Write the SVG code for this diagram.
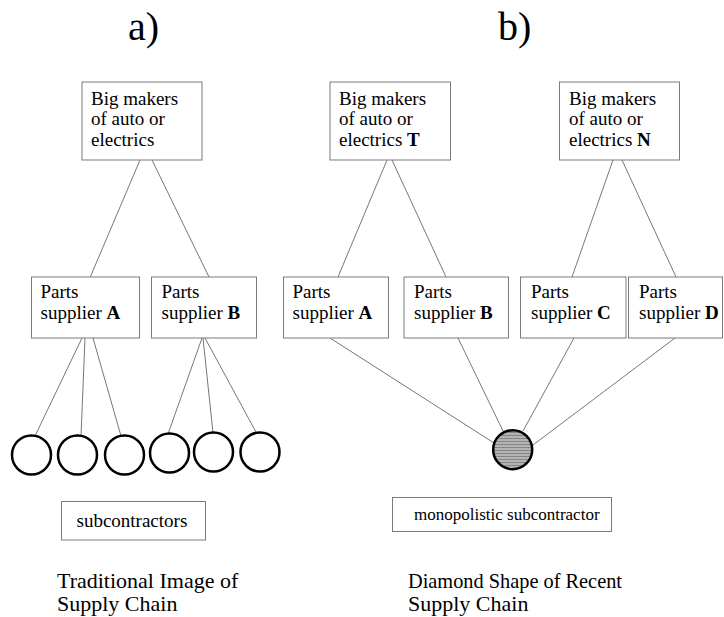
<svg xmlns="http://www.w3.org/2000/svg" width="724" height="617" viewBox="0 0 724 617" font-family="Liberation Serif, DejaVu Serif, serif">
<style>
text{font-family:'Liberation Serif','DejaVu Serif',serif}
.box{fill:#fff;stroke:#7a7a7a;stroke-width:1}
.t{font-size:19px;fill:#000}
.big{font-size:40px;fill:#000}
.cap{font-size:22px;fill:#000}
.c{stroke:#777;stroke-width:1;fill:none}
.sub{fill:#fff;stroke:#000;stroke-width:2.5}
</style>
<defs>
<pattern id="stripes" width="4" height="3" patternUnits="userSpaceOnUse">
<rect width="4" height="3" fill="#b4b4b4"/>
<rect width="4" height="1" fill="#858585"/>
</pattern>
</defs>
<rect width="724" height="617" fill="#fff"/>
<text class="big" x="128" y="40">a)</text>
<text class="big" x="498" y="40">b)</text>
<g id="connectors">
<line class="c" x1="140" y1="160" x2="89" y2="280"/>
<line class="c" x1="152" y1="160" x2="209" y2="277"/>
<line class="c" x1="387" y1="160" x2="338" y2="277"/>
<line class="c" x1="392" y1="160" x2="446" y2="277"/>
<line class="c" x1="613" y1="160" x2="572" y2="277"/>
<line class="c" x1="622" y1="160" x2="676" y2="277"/>
<line class="c" x1="82" y1="338" x2="35" y2="436"/>
<line class="c" x1="85" y1="338" x2="81" y2="436"/>
<line class="c" x1="93" y1="338" x2="121" y2="436"/>
<line class="c" x1="202" y1="338" x2="168" y2="434"/>
<line class="c" x1="203" y1="338" x2="213" y2="433"/>
<line class="c" x1="205" y1="338" x2="257" y2="434"/>
<line class="c" x1="330" y1="338" x2="494" y2="443"/>
<line class="c" x1="458" y1="338" x2="503" y2="431"/>
<line class="c" x1="574" y1="338" x2="523" y2="431"/>
<line class="c" x1="675" y1="338" x2="533" y2="445"/>
</g>
<g id="makerA">
<rect class="box" x="82" y="82" width="120" height="78"/>
<text class="t" x="91" y="105">Big makers</text>
<text class="t" x="91" y="125">of auto or</text>
<text class="t" x="91" y="146">electrics</text>
</g>
<g id="makerT">
<rect class="box" x="330" y="82" width="120.5" height="78"/>
<text class="t" x="339" y="105">Big makers</text>
<text class="t" x="339" y="125">of auto or</text>
<text class="t" x="339" y="146">electrics <tspan font-weight="bold">T</tspan></text>
</g>
<g id="makerN">
<rect class="box" x="559.5" y="82" width="120" height="78"/>
<text class="t" x="569" y="105">Big makers</text>
<text class="t" x="569" y="125">of auto or</text>
<text class="t" x="569" y="146">electrics <tspan font-weight="bold">N</tspan></text>
</g>
<g id="partsA_a">
<rect class="box" x="31.5" y="277" width="108" height="61"/>
<text class="t" x="40.5" y="298">Parts</text>
<text class="t" x="40.5" y="319">supplier <tspan font-weight="bold">A</tspan></text>
</g>
<g id="partsB_a">
<rect class="box" x="151.5" y="277" width="105" height="61"/>
<text class="t" x="161.5" y="298">Parts</text>
<text class="t" x="161.5" y="319">supplier <tspan font-weight="bold">B</tspan></text>
</g>
<g id="partsA_b">
<rect class="box" x="283.5" y="277" width="105" height="61"/>
<text class="t" x="292.5" y="298">Parts</text>
<text class="t" x="292.5" y="319">supplier <tspan font-weight="bold">A</tspan></text>
</g>
<g id="partsB_b">
<rect class="box" x="404" y="277" width="104.5" height="61"/>
<text class="t" x="414" y="298">Parts</text>
<text class="t" x="414" y="319">supplier <tspan font-weight="bold">B</tspan></text>
</g>
<g id="partsC_b">
<rect class="box" x="520.5" y="277" width="105.5" height="61"/>
<text class="t" x="531" y="298">Parts</text>
<text class="t" x="531" y="319">supplier <tspan font-weight="bold">C</tspan></text>
</g>
<g id="partsD_b">
<rect class="box" x="628.5" y="277" width="94" height="61"/>
<text class="t" x="639" y="298">Parts</text>
<text class="t" x="639" y="319">supplier <tspan font-weight="bold">D</tspan></text>
</g>
<g id="subs">
<circle class="sub" cx="31.5" cy="455" r="19.5"/>
<circle class="sub" cx="77.5" cy="455" r="19.5"/>
<circle class="sub" cx="124.5" cy="455" r="19.5"/>
<circle class="sub" cx="169.5" cy="453" r="19.5"/>
<circle class="sub" cx="213.5" cy="452" r="19.5"/>
<circle class="sub" cx="260" cy="452" r="19.5"/>
</g>
<g id="mono">
<circle cx="512.7" cy="449.7" r="19.5" fill="url(#stripes)" stroke="#000" stroke-width="2.5"/>
</g>
<g id="subcontractors">
<rect class="box" x="61.5" y="501.5" width="144" height="38.5"/>
<text class="t" x="76.5" y="527">subcontractors</text>
</g>
<g id="monopolistic">
<rect class="box" x="392.5" y="497.5" width="219" height="34"/>
<text class="t" x="414" y="520" font-size="17" style="font-size:17px">monopolistic subcontractor</text>
</g>
<g id="captionA">
<text class="cap" x="57" y="588">Traditional Image of</text>
<text class="cap" x="57" y="611">Supply Chain</text>
</g>
<g id="captionB">
<text class="cap" x="408" y="588" textLength="214" lengthAdjust="spacingAndGlyphs">Diamond Shape of Recent</text>
<text class="cap" x="408" y="611">Supply Chain</text>
</g>
</svg>
